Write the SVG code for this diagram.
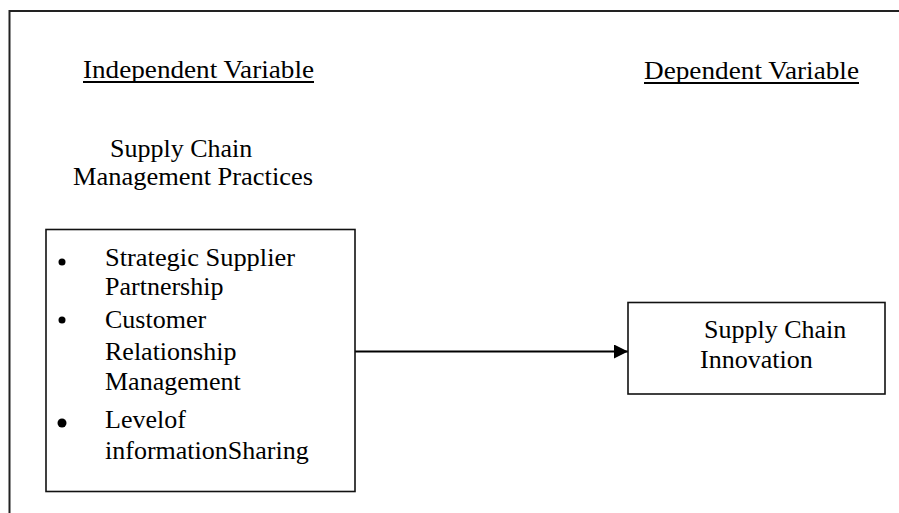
<svg xmlns="http://www.w3.org/2000/svg" width="899" height="513" viewBox="0 0 899 513">
<style>
text{font-family:"Liberation Serif","Times New Roman",serif;font-size:26px;fill:#000}
.box{fill:#fff;stroke:#111;stroke-width:1.6}
.ul{stroke:#000;stroke-width:1.8}
</style>
<defs>
<marker id="ah" markerWidth="14" markerHeight="14" refX="14" refY="7" orient="auto" markerUnits="userSpaceOnUse">
<path d="M0,0 L14,7 L0,14 Z" fill="#000"/>
</marker>
</defs>
<rect width="899" height="513" fill="#fff"/>
<g id="frame">
<path d="M9.5,513 V11 H899" fill="none" stroke="#222" stroke-width="2"/>
</g>
<g id="headers">
<text x="83" y="78" textLength="231" lengthAdjust="spacingAndGlyphs">Independent Variable</text>
<line class="ul" x1="83" y1="82" x2="314" y2="82"/>
<text x="644" y="79" textLength="215" lengthAdjust="spacingAndGlyphs">Dependent Variable</text>
<line class="ul" x1="644" y1="83" x2="859" y2="83"/>
<text x="110" y="157">Supply Chain</text>
<text x="73" y="185" textLength="240" lengthAdjust="spacingAndGlyphs">Management Practices</text>
</g>
<g id="connectors">
<line x1="355" y1="351.5" x2="628" y2="351.5" stroke="#000" stroke-width="2" marker-end="url(#ah)"/>
</g>
<g id="practices">
<rect class="box" x="46" y="229.5" width="309" height="262"/>
<circle cx="62" cy="262" r="3.5"/>
<circle cx="62" cy="320" r="3.5"/>
<circle cx="62" cy="423" r="4.5"/>
<text x="105" y="266" textLength="190" lengthAdjust="spacingAndGlyphs">Strategic Supplier</text>
<text x="105" y="295">Partnership</text>
<text x="105" y="328">Customer</text>
<text x="105" y="360">Relationship</text>
<text x="105" y="390">Management</text>
<text x="105" y="428">Levelof</text>
<text x="105" y="459">informationSharing</text>
</g>
<g id="innovation">
<rect class="box" x="628" y="302.5" width="257" height="91.5"/>
<text x="704" y="338">Supply Chain</text>
<text x="700" y="368">Innovation</text>
</g>
</svg>
